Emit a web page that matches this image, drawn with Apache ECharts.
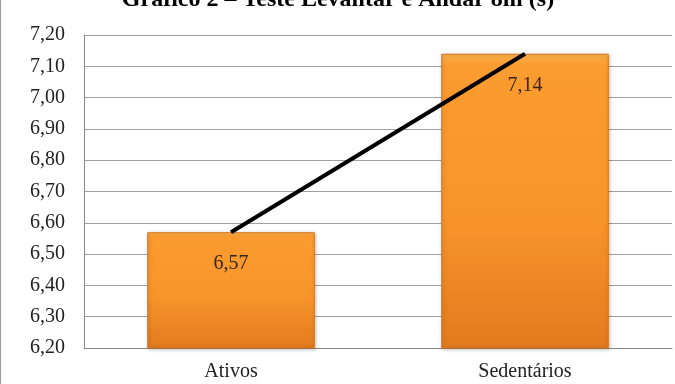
<!DOCTYPE html>
<html>
<head>
<meta charset="utf-8">
<script src="https://cdn.jsdelivr.net/npm/echarts@6/dist/echarts.min.js"></script>
<style>
  html, body { margin: 0; padding: 0; background: #fff; }
  #chart { width: 675px; height: 384px; border-left: 1px solid #999; box-sizing: border-box; }
</style>
</head>
<body>
<div id="chart"></div>
<script>
  // dados do gráfico
  var categories = ['Ativos', 'Sedentários'];
  var tempos = [6.57, 7.14];
  var yMin = 6.2, yMax = 7.2, yStep = 0.1;

  var fmt = function (v) { return v.toFixed(2).replace('.', ','); };

  var barColor = new echarts.graphic.LinearGradient(0, 0, 0, 1, [
    {offset: 0, color: '#fbb04a'},
    {offset: 0.04, color: '#fb9c30'},
    {offset: 0.55, color: '#f8952a'},
    {offset: 1, color: '#e27b1f'}
  ]);

  var myChart = echarts.init(document.getElementById('chart'));
  var option = {
    animation: false,
    title: {
      text: 'Gráfico 2 – Teste Levantar e Andar 8m (s)',
      left: 'center',
      top: -17,
      textStyle: {
        fontFamily: 'Liberation Serif',
        fontSize: 24,
        fontWeight: 'bold',
        color: '#000'
      }
    },
    grid: {
      left: 83,
      right: 3,
      top: 35,
      bottom: 36
    },
    xAxis: {
      type: 'category',
      data: categories,
      axisLine: {lineStyle: {color: '#888', width: 1}},
      axisTick: {show: false},
      axisLabel: {
        margin: 14,
        fontFamily: 'Liberation Serif',
        fontSize: 20,
        color: '#222'
      }
    },
    yAxis: {
      type: 'value',
      min: yMin,
      max: yMax,
      interval: yStep,
      axisLine: {show: true, lineStyle: {color: '#888', width: 1}},
      axisTick: {show: false},
      splitLine: {lineStyle: {color: '#a0a0a0', width: 1}},
      axisLabel: {
        margin: 19,
        fontFamily: 'Liberation Serif',
        fontSize: 20,
        color: '#222',
        formatter: fmt
      }
    },
    series: [
      {
        type: 'bar',
        data: tempos,
        barWidth: '57%',
        itemStyle: {
          color: barColor,
          borderColor: '#d8731c',
          borderWidth: 1,
          shadowColor: 'rgba(0,0,0,0.25)',
          shadowBlur: 4,
          shadowOffsetX: 1,
          shadowOffsetY: 1
        },
        label: {
          show: true,
          position: 'insideTop',
          distance: 22,
          fontFamily: 'Liberation Serif',
          fontSize: 20,
          color: '#3a2412',
          formatter: function (p) { return fmt(p.value); }
        }
      },
      {
        type: 'line',
        data: tempos,
        symbol: 'none',
        lineStyle: {color: '#000', width: 4},
        z: 5
      }
    ]
  };
  myChart.setOption(option);
</script>
</body>
</html>
